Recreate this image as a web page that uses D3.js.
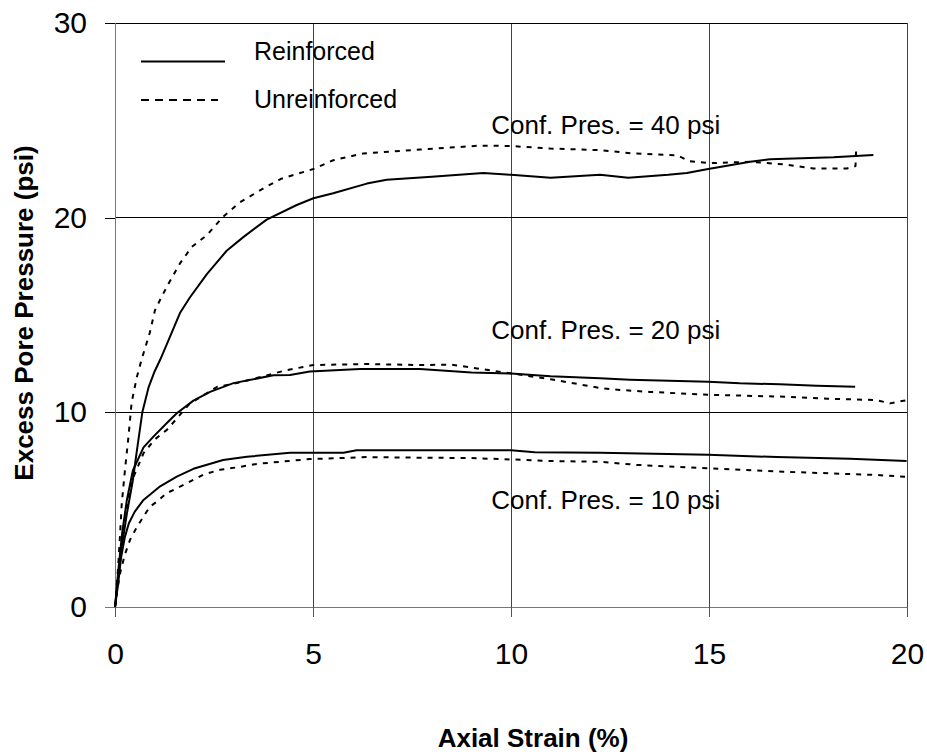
<!DOCTYPE html>
<html>
<head>
<meta charset="utf-8">
<script src="https://cdn.jsdelivr.net/npm/d3@7"></script>
<style>
  html, body { margin: 0; padding: 0; background: #fff; }
  svg { display: block; font-family: "Liberation Sans", Arial, sans-serif; }
</style>
</head>
<body>
<svg id="chart" width="927" height="754"></svg>
<script>
// Axis ticks
const xTicks = [0, 5, 10, 15, 20];
const yTicks = [0, 10, 20, 30];

// Series: [axial strain (%), excess pore pressure (psi)]
const reinforced40 = [[0,0],[0.08,1.5],[0.18,3.2],[0.3,4.8],[0.45,6.5],[0.55,8.0],[0.69,10],[0.85,11.3],[1.0,12.1],[1.14,12.7],[1.31,13.5],[1.64,15.1],[1.89,15.9],[2.32,17.1],[2.82,18.3],[3.24,19.0],[3.83,19.9],[4.59,20.65],[5.01,21.0],[5.51,21.25],[6.36,21.75],[6.86,21.95],[8.0,22.1],[9.3,22.3],[10.0,22.2],[11.0,22.05],[12.25,22.2],[12.96,22.05],[13.97,22.2],[14.44,22.3],[14.98,22.5],[16.04,22.87],[16.54,23.0],[18.14,23.1],[19.15,23.22]];
const unreinforced40 = [[0,0],[0.03,0.7],[0.08,2.1],[0.13,3.8],[0.17,5.3],[0.25,7.0],[0.34,8.75],[0.42,10.5],[0.55,11.8],[0.67,12.7],[0.88,14.1],[1.01,15.25],[1.18,15.95],[1.35,16.6],[1.64,17.65],[1.94,18.5],[2.32,19.1],[2.73,20.05],[3.16,20.8],[3.83,21.6],[4.2,22.0],[5.01,22.5],[5.51,22.95],[6.27,23.3],[7.7,23.5],[9.22,23.7],[10.0,23.68],[11.0,23.55],[12.25,23.47],[13.09,23.3],[14.2,23.2],[14.5,22.9],[15.03,22.8],[16.04,22.87],[16.88,22.74],[17.63,22.53],[18.48,22.53],[18.7,22.65],[18.72,23.7]];
const reinforced20 = [[0,0],[0.08,1.8],[0.18,3.8],[0.3,5.5],[0.45,7.0],[0.72,8.2],[0.97,8.75],[1.31,9.45],[1.56,9.95],[1.98,10.6],[2.4,11.05],[2.99,11.5],[4.0,11.9],[4.42,11.92],[4.92,12.1],[6.19,12.22],[7.7,12.22],[9.0,12.05],[10.0,12.0],[11.0,11.85],[12.25,11.75],[13.0,11.68],[14.98,11.57],[15.78,11.49],[16.79,11.44],[17.72,11.37],[18.69,11.31]];
const unreinforced20 = [[0,0],[0.06,1.2],[0.15,3.0],[0.28,5.0],[0.45,6.6],[0.72,7.9],[1.0,8.6],[1.31,9.1],[1.89,10.45],[2.57,11.3],[3.07,11.5],[3.83,11.9],[4.34,12.17],[5.01,12.43],[6.36,12.48],[7.7,12.43],[8.5,12.45],[9.0,12.3],[10.0,12.0],[11.0,11.7],[12.25,11.25],[12.75,11.15],[13.5,11.05],[15.03,10.9],[16.96,10.8],[18.0,10.7],[19.23,10.63],[19.57,10.46],[20,10.63]];
const reinforced10 = [[0,0],[0.08,1.2],[0.15,2.5],[0.25,3.6],[0.35,4.3],[0.5,4.9],[0.72,5.5],[1.14,6.2],[1.56,6.7],[1.98,7.1],[2.73,7.55],[3.33,7.72],[4.42,7.92],[5.77,7.92],[6.1,8.05],[7.7,8.05],[10.0,8.05],[10.6,7.95],[12.25,7.93],[14.98,7.82],[16.71,7.7],[18.56,7.62],[19.99,7.5]];
const unreinforced10 = [[0,0],[0.05,0.8],[0.13,1.75],[0.25,2.7],[0.38,3.45],[0.55,4.1],[0.88,5.15],[1.05,5.4],[1.31,5.85],[1.81,6.35],[2.23,6.8],[2.65,7.05],[3.07,7.17],[3.58,7.35],[4.17,7.46],[4.92,7.6],[5.51,7.64],[6.36,7.7],[7.7,7.67],[9.0,7.65],[10.0,7.58],[11.0,7.5],[12.25,7.46],[13.17,7.3],[15.03,7.12],[16.88,6.95],[19.23,6.78],[19.95,6.69]];

// Curve annotations
const pressureLabels = ["Conf. Pres. = 40 psi", "Conf. Pres. = 20 psi", "Conf. Pres. = 10 psi"];
const legendLabels = ["Reinforced", "Unreinforced"];

const margin = { left: 115, top: 23, right: 20, bottom: 147 };
const W = 927, H = 754;
const pw = W - margin.left - margin.right;   // 792
const ph = H - margin.top - margin.bottom;   // 584

const svg = d3.select("#chart");
svg.append("rect").attr("width", W).attr("height", H).attr("fill", "#fff");

const x = d3.scaleLinear().domain([0, 20]).range([0, pw]);
const y = d3.scaleLinear().domain([0, 30]).range([ph, 0]);

const g = svg.append("g").attr("transform", `translate(${margin.left},${margin.top})`);

// Gridlines
g.append("g").selectAll("line.v").data(xTicks.filter(d => d > 0)).join("line")
  .attr("x1", d => x(d)).attr("x2", d => x(d))
  .attr("y1", 0).attr("y2", ph)
  .attr("stroke", "#444").attr("stroke-width", 1).attr("shape-rendering", "crispEdges");
g.append("g").selectAll("line.h").data(yTicks.filter(d => d > 0)).join("line")
  .attr("x1", 0).attr("x2", pw)
  .attr("y1", d => y(d)).attr("y2", d => y(d))
  .attr("stroke", "#000").attr("stroke-width", 1).attr("shape-rendering", "crispEdges");

// Axes
const yAxis = g.append("g")
  .call(d3.axisLeft(y).tickValues(yTicks).tickSize(10).tickPadding(18).tickFormat(d3.format("d")));
yAxis.select(".domain").attr("stroke", "#777").attr("shape-rendering", "crispEdges");
yAxis.selectAll(".tick line").attr("stroke", d => d === 0 ? "#777" : "#000").attr("shape-rendering", "crispEdges");
yAxis.selectAll("text").attr("font-size", 30).attr("fill", "#000")
  .attr("font-family", "'Liberation Sans', Arial, sans-serif");

const xAxis = g.append("g").attr("transform", `translate(0,${ph})`)
  .call(d3.axisBottom(x).tickValues(xTicks).tickSize(10).tickPadding(26).tickFormat(d3.format("d")));
xAxis.select(".domain").attr("stroke", "#777").attr("shape-rendering", "crispEdges");
xAxis.selectAll(".tick line").attr("stroke", "#555").attr("shape-rendering", "crispEdges");
xAxis.selectAll("text").attr("font-size", 30).attr("fill", "#000")
  .attr("font-family", "'Liberation Sans', Arial, sans-serif");

// Curves
const line = d3.line().x(d => x(d[0])).y(d => y(d[1]));
const series = [
  { data: reinforced40, dash: null },
  { data: reinforced20, dash: null },
  { data: reinforced10, dash: null },
  { data: unreinforced40, dash: "5,6" },
  { data: unreinforced20, dash: "5,6" },
  { data: unreinforced10, dash: "5,6" }
];
g.append("g").selectAll("path").data(series).join("path")
  .attr("d", d => line(d.data))
  .attr("fill", "none")
  .attr("stroke", "#000")
  .attr("stroke-width", 2)
  .attr("stroke-linejoin", "round")
  .attr("stroke-dasharray", d => d.dash);

// Confining pressure annotations
const labelPos = [[9.5, 24.3], [9.5, 13.77], [9.5, 5.03]];
g.append("g").selectAll("text").data(pressureLabels).join("text")
  .attr("x", (d, i) => x(labelPos[i][0]))
  .attr("y", (d, i) => y(labelPos[i][1]))
  .attr("font-size", 26)
  .attr("fill", "#000")
  .text(d => d);

// Legend
const legend = svg.append("g");
const legendRows = [
  { label: legendLabels[0], y: 61.5, x2: 225, dash: null, ty: 60 },
  { label: legendLabels[1], y: 100, x2: 218, dash: "8,6", ty: 108 }
];
legend.selectAll("line").data(legendRows).join("line")
  .attr("x1", 141).attr("x2", d => d.x2)
  .attr("y1", d => d.y).attr("y2", d => d.y)
  .attr("stroke", "#000").attr("stroke-width", 2)
  .attr("stroke-dasharray", d => d.dash);
legend.selectAll("text").data(legendRows).join("text")
  .attr("x", 254).attr("y", d => d.ty)
  .attr("font-size", 25).attr("fill", "#000")
  .text(d => d.label);

// Axis titles
svg.append("text")
  .attr("x", 533).attr("y", 747)
  .attr("text-anchor", "middle")
  .attr("font-size", 26).attr("font-weight", "bold")
  .text("Axial Strain (%)");
svg.append("text")
  .attr("transform", "translate(33,313) rotate(-90)")
  .attr("text-anchor", "middle")
  .attr("font-size", 26).attr("font-weight", "bold")
  .text("Excess Pore Pressure (psi)");
</script>
</body>
</html>
